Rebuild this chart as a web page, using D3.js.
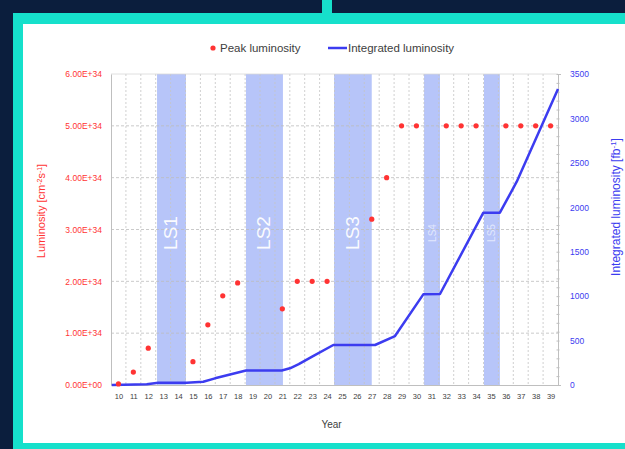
<!DOCTYPE html>
<html>
<head>
<meta charset="utf-8">
<script src="https://cdn.jsdelivr.net/npm/d3@7"></script>
<style>
  body { margin: 0; background: #0b1e3d; }
  text { font-family: "Liberation Sans", Arial, sans-serif; }
</style>
</head>
<body>
<div id="chart"></div>
<script>
// *****************************DATA********************************************
// Year categories (20xx) and their tick labels
var years = [10, 11, 12, 13, 14, 15, 16, 17, 18, 19, 20, 21, 22, 23, 24,
             25, 26, 27, 28, 29, 30, 31, 32, 33, 34, 35, 36, 37, 38, 39];
var yearLabels = ["10", "11", "12", "13", "14", "15", "16", "17", "18", "19",
                  "20", "21", "22", "23", "24", "25", "26", "27", "28", "29",
                  "30", "31", "32", "33", "34", "35", "36", "37", "38", "39"];

// Peak luminosity (units of 1e34 cm^-2 s^-1)
var peakYears  = [10, 11, 12, 15, 16, 17, 18, 21, 22, 23, 24, 27, 28,
                  29, 30, 32, 33, 34, 36, 37, 38, 39];
var peakValues = [0.02, 0.25, 0.71, 0.45, 1.16, 1.72, 1.97, 1.47, 2, 2, 2, 3.2, 4,
                  5, 5, 5, 5, 5, 5, 5, 5, 5];

// Integrated luminosity (fb^-1), position in year units
var intTimes  = [9.55, 11.9, 12.67, 14.58, 15.69, 16.48, 18.56, 20.96, 21.51,
                 22.1, 23.0, 24.42, 27.22, 28.56, 30.46, 31.58, 34.49, 35.6,
                 36.73, 39.5];
var intValues = [0, 8, 26, 26, 37, 75, 163, 163, 188,
                 235, 320, 450, 450, 551, 1020, 1024, 1939, 1939,
                 2288, 3330];

// Long shutdowns
var shutdownNames = ["LS1", "LS2", "LS3", "LS4", "LS5"];
var shutdownStart = [12.59, 18.56, 24.47, 30.51, 34.53];
var shutdownEnd   = [14.53, 21.04, 27.0, 31.58, 35.6];

// Axis ticks
var leftTicks  = [0, 1, 2, 3, 4, 5, 6];
var rightTicks = [0, 500, 1000, 1500, 2000, 2500, 3000, 3500];

// *************************CANVAS SET UP***************************************
var svgWidth = 625, svgHeight = 449;
var plot = {left: 111, right: 558, top: 74, bottom: 385};

var red = "#ff3333", blue = "#3c3cf0", teal = "#16e0cb", navy = "#0b1e3d";

var svg = d3.select("#chart").append("svg")
    .attr("width", svgWidth)
    .attr("height", svgHeight);

// Background frame
svg.append("rect").attr("width", svgWidth).attr("height", svgHeight).attr("fill", navy);
svg.append("rect").attr("x", 13).attr("y", 13).attr("width", 640).attr("height", 460).attr("fill", teal);
svg.append("rect").attr("x", 322).attr("y", 0).attr("width", 10).attr("height", 14).attr("fill", teal);
svg.append("rect").attr("x", 23).attr("y", 24).attr("width", 620).attr("height", 419).attr("fill", "#ffffff");

// *****************************SCALES******************************************
var x = d3.scaleLinear().domain([9.5, 39.5]).range([plot.left, plot.right]);
var yL = d3.scaleLinear().domain([0, 6]).range([plot.bottom, plot.top]);
var yR = d3.scaleLinear().domain([0, 3500]).range([plot.bottom, plot.top]);

// ****************************SHUTDOWN BANDS***********************************
var bands = svg.append("g");
shutdownNames.forEach(function(name, i) {
  bands.append("rect")
    .attr("x", x(shutdownStart[i]))
    .attr("y", plot.top)
    .attr("width", x(shutdownEnd[i]) - x(shutdownStart[i]))
    .attr("height", plot.bottom - plot.top)
    .attr("fill", "#4a6ef0")
    .attr("fill-opacity", 0.4);
});

// ******************************GRIDLINES**************************************
var grid = svg.append("g");
years.slice(1).forEach(function(d) {
  grid.append("line")
    .attr("x1", x(d - 0.5)).attr("x2", x(d - 0.5))
    .attr("y1", plot.top).attr("y2", plot.bottom)
    .attr("stroke", "#c4c4c4").attr("stroke-width", 0.8)
    .attr("stroke-dasharray", "2,2");
});
leftTicks.slice(1).forEach(function(d) {
  grid.append("line")
    .attr("x1", plot.left).attr("x2", plot.right)
    .attr("y1", yL(d)).attr("y2", yL(d))
    .attr("stroke", d === 6 ? "#d8d8d8" : "#bdbdbd").attr("stroke-width", 0.8)
    .attr("stroke-dasharray", d === 6 ? null : "3,2");
});

// *******************************AXES******************************************
function styleAxis(g) {
  g.select(".domain").attr("stroke", "#bfbfbf");
  g.selectAll(".tick line").attr("stroke", "#bfbfbf");
}

var leftAxis = svg.append("g")
  .attr("transform", "translate(" + plot.left + ",0)")
  .call(d3.axisLeft(yL).tickValues(leftTicks).tickSize(0).tickPadding(9)
    .tickFormat(function(d) { return d === 0 ? "0.00E+00" : d.toFixed(2) + "E+34"; }));
leftAxis.call(styleAxis);
leftAxis.selectAll("text").attr("fill", red).attr("font-size", 8.5).attr("font-family", null);

// Minor ticks on the secondary axis
svg.append("g")
  .attr("transform", "translate(" + plot.right + ",0)")
  .call(d3.axisRight(yR).ticks(35).tickSize(3).tickFormat(""))
  .call(styleAxis)
  .selectAll(".tick line").attr("x1", -1.5).attr("x2", 1.5);

var rightAxis = svg.append("g")
  .attr("transform", "translate(" + plot.right + ",0)")
  .call(d3.axisRight(yR).tickValues(rightTicks).tickSize(0).tickPadding(12)
    .tickFormat(d3.format("d")));
rightAxis.select(".domain").remove();
rightAxis.selectAll("text").attr("fill", blue).attr("font-size", 8.5).attr("font-family", null);

var bottomAxis = svg.append("g")
  .attr("transform", "translate(0," + plot.bottom + ")")
  .call(d3.axisBottom(x).tickValues(years).tickSize(0).tickPadding(9)
    .tickFormat(function(d, i) { return yearLabels[i]; }));
bottomAxis.call(styleAxis);
bottomAxis.selectAll("text").attr("fill", "#404040").attr("font-size", 7.5).attr("font-family", null);

// ****************************SHUTDOWN LABELS**********************************
shutdownNames.forEach(function(name, i) {
  var big = i < 3;
  var cx = (x(shutdownStart[i]) + x(shutdownEnd[i])) / 2;
  svg.append("text")
    .attr("transform", "translate(" + (cx + (big ? 6 : 3.5)) + ",233) rotate(-90)")
    .attr("text-anchor", "middle")
    .attr("fill", "#ffffff")
    .attr("fill-opacity", big ? 0.95 : 0.6)
    .attr("font-family", "'Open Sans', 'DejaVu Sans', sans-serif")
    .attr("font-size", big ? 19 : 10)
    .text(name);
});

// ******************************SERIES*****************************************
var intPoints = intTimes.map(function(t, i) { return [t, intValues[i]]; });
svg.append("path")
  .datum(intPoints)
  .attr("d", d3.line().x(function(d) { return x(d[0]); }).y(function(d) { return yR(d[1]); }))
  .attr("fill", "none")
  .attr("stroke", blue)
  .attr("stroke-width", 2.5)
  .attr("stroke-linejoin", "round");

svg.selectAll(null)
  .data(peakYears)
  .enter()
  .append("circle")
    .attr("cx", function(d) { return x(d); })
    .attr("cy", function(d, i) { return yL(peakValues[i]); })
    .attr("r", 2.6)
    .attr("fill", red);

// ******************************LABELS*****************************************
var legend = svg.append("g").attr("font-size", 11.5).attr("fill", "#404040");
legend.append("circle").attr("cx", 213).attr("cy", 48).attr("r", 2.6).attr("fill", red);
legend.append("text").attr("x", 220).attr("y", 52).text("Peak luminosity");
legend.append("line").attr("x1", 328).attr("x2", 347).attr("y1", 48).attr("y2", 48)
  .attr("stroke", blue).attr("stroke-width", 2.5);
legend.append("text").attr("x", 348).attr("y", 52).text("Integrated luminosity");

svg.append("text")
  .attr("x", (plot.left + plot.right) / 2 - 3)
  .attr("y", 428)
  .attr("text-anchor", "middle")
  .attr("font-size", 10)
  .attr("fill", "#404040")
  .text("Year");

var leftTitle = svg.append("text")
  .attr("transform", "translate(45,211) rotate(-90)")
  .attr("text-anchor", "middle")
  .attr("font-size", 11)
  .attr("fill", red);
leftTitle.append("tspan").text("Luminosity [cm");
leftTitle.append("tspan").attr("baseline-shift", "super").attr("font-size", 7).text("-2");
leftTitle.append("tspan").text("s");
leftTitle.append("tspan").attr("baseline-shift", "super").attr("font-size", 7).text("-1");
leftTitle.append("tspan").text("]");

var rightTitle = svg.append("text")
  .attr("transform", "translate(620,207) rotate(-90)")
  .attr("text-anchor", "middle")
  .attr("font-size", 12)
  .attr("fill", blue);
rightTitle.append("tspan").text("Integrated luminosity [fb");
rightTitle.append("tspan").attr("baseline-shift", "super").attr("font-size", 8).text("-1");
rightTitle.append("tspan").text("]");
</script>
</body>
</html>
